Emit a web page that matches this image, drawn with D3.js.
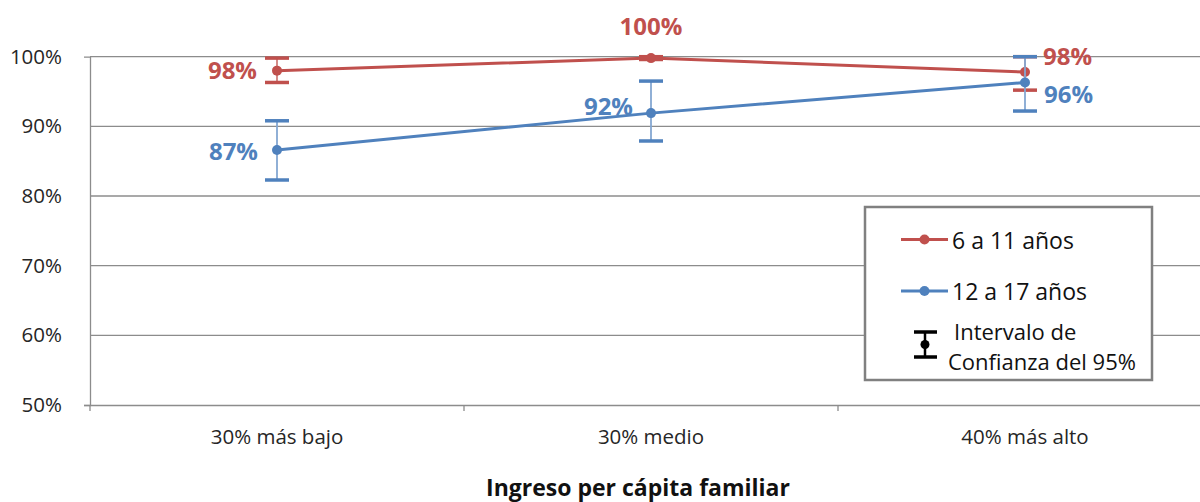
<!DOCTYPE html>
<html lang="es">
  <head>
    <meta charset="UTF-8" />
    <title>Ingreso per cápita familiar</title>
    <script src="https://d3js.org/d3.v7.min.js"></script>
    <style>
      body { margin: 0; background: #fff; }
      svg { display: block; font-family: "Open Sans", sans-serif; }
      .tick text { fill: #262626; }
    </style>
  </head>
  <body>
    <svg width="1200" height="502"></svg>
    <script>
      // categories on the x axis
      const categories = ["30% más bajo", "30% medio", "40% más alto"];
      // series values (%), with 95% confidence limits
      const seriesNames = ["6 a 11 años", "12 a 17 años"];
      const red = [98.0, 99.8, 97.8];
      const redLow = [96.3, 99.6, 95.2];
      const redHigh = [99.8, 100.0, 100.0];
      const blue = [86.6, 91.9, 96.3];
      const blueLow = [82.3, 87.9, 92.2];
      const blueHigh = [90.8, 96.5, 100.0];
      const redLabels = ["98%", "100%", "98%"];
      const blueLabels = ["87%", "92%", "96%"];
      const yTicks = [50, 60, 70, 80, 90, 100];

      const svg = d3.select("svg");
      const mLeft = 90, mRight = 1212, mTop = 56.7, mBottom = 405;
      const font = "'Open Sans', sans-serif";

      const x = d3.scaleBand().domain(categories).range([mLeft, mRight]);
      const y = d3.scaleLinear().domain([50, 100]).range([mBottom, mTop]);
      const grey = "#8c8c8c";

      // gridlines
      svg.append("g")
        .selectAll("line")
        .data(yTicks.slice(1))
        .join("line")
        .attr("x1", mLeft).attr("x2", mRight)
        .attr("y1", d => y(d)).attr("y2", d => y(d))
        .attr("stroke", grey).attr("stroke-width", 1.3);

      // y axis
      const yAxis = svg.append("g")
        .attr("transform", `translate(${mLeft},0)`)
        .call(d3.axisLeft(y).tickValues(yTicks).tickFormat(d => d + "%").tickSize(6).tickPadding(22));
      yAxis.select(".domain").attr("stroke", grey).attr("stroke-width", 1.3);
      yAxis.selectAll(".tick line").attr("stroke", grey).attr("stroke-width", 1.3)
        .attr("x2", (d) => d === 50 ? -6 : 0);
      yAxis.selectAll("text").attr("font-size", 20.5).attr("font-family", font);

      // x axis
      const xAxis = svg.append("g")
        .attr("transform", `translate(0,${mBottom})`)
        .call(d3.axisBottom(x).tickSize(0).tickPadding(24));
      xAxis.select(".domain").attr("stroke", grey).attr("stroke-width", 1.3);
      xAxis.selectAll("text").attr("font-size", 20.5).attr("font-family", font);
      // category separators
      svg.append("g")
        .selectAll("line")
        .data(categories)
        .join("line")
        .attr("x1", d => x(d)).attr("x2", d => x(d))
        .attr("y1", mBottom).attr("y2", mBottom + 6)
        .attr("stroke", grey).attr("stroke-width", 1.3);

      // axis title
      svg.append("text")
        .attr("x", 638).attr("y", 496)
        .attr("text-anchor", "middle")
        .attr("font-size", 23).attr("font-weight", "bold")
        .attr("fill", "#111")
        .text("Ingreso per cápita familiar");

      const cx = d => x(d) + x.bandwidth() / 2;

      function drawSeries(vals, low, high, color, stemColor) {
        const g = svg.append("g");
        // error bars
        categories.forEach((c, i) => {
          g.append("line")
            .attr("x1", cx(c)).attr("x2", cx(c))
            .attr("y1", y(low[i])).attr("y2", y(high[i]))
            .attr("stroke", stemColor).attr("stroke-width", 1.8);
          [low[i], high[i]].forEach(v => {
            g.append("line")
              .attr("x1", cx(c) - 12).attr("x2", cx(c) + 12)
              .attr("y1", y(v)).attr("y2", y(v))
              .attr("stroke", color).attr("stroke-width", 3.5);
          });
        });
        g.append("path")
          .datum(vals)
          .attr("fill", "none")
          .attr("stroke", color).attr("stroke-width", 3)
          .attr("d", d3.line().x((d, i) => cx(categories[i])).y(d => y(d)));
        g.selectAll("circle")
          .data(vals)
          .join("circle")
          .attr("cx", (d, i) => cx(categories[i])).attr("cy", d => y(d))
          .attr("r", 5).attr("fill", color);
      }

      drawSeries(red, redLow, redHigh, "#c0504d", "#d07f7c");
      drawSeries(blue, blueLow, blueHigh, "#4f81bd", "#84a7d2");

      // data labels
      const labelStyle = sel => sel.attr("font-size", 24).attr("font-weight", "bold")
        .attr("dominant-baseline", "central").attr("font-family", font);
      const redPos = [
        { dx: -20, dy: -1, anchor: "end" },
        { dx: 0, dy: -33, anchor: "middle" },
        { dx: 18, dy: -17, anchor: "start" }
      ];
      const bluePos = [
        { dx: -19, dy: 0, anchor: "end" },
        { dx: -18, dy: -8, anchor: "end" },
        { dx: 19, dy: 11, anchor: "start" }
      ];
      svg.append("g").selectAll("text").data(red).join("text")
        .attr("x", (d, i) => cx(categories[i]) + redPos[i].dx)
        .attr("y", (d, i) => y(d) + redPos[i].dy)
        .attr("text-anchor", (d, i) => redPos[i].anchor)
        .attr("fill", "#c0504d")
        .call(labelStyle)
        .text((d, i) => redLabels[i]);
      svg.append("g").selectAll("text").data(blue).join("text")
        .attr("x", (d, i) => cx(categories[i]) + bluePos[i].dx)
        .attr("y", (d, i) => y(d) + bluePos[i].dy)
        .attr("text-anchor", (d, i) => bluePos[i].anchor)
        .attr("fill", "#4f81bd")
        .call(labelStyle)
        .text((d, i) => blueLabels[i]);

      // legend
      const lg = svg.append("g");
      lg.append("rect")
        .attr("x", 865).attr("y", 207).attr("width", 287).attr("height", 173)
        .attr("fill", "#fff").attr("stroke", "#808080").attr("stroke-width", 2.5);
      const legendColors = ["#c0504d", "#4f81bd"];
      seriesNames.forEach((name, i) => {
        const ly = 239.5 + i * 51.5;
        lg.append("line").attr("x1", 901).attr("x2", 948).attr("y1", ly).attr("y2", ly)
          .attr("stroke", legendColors[i]).attr("stroke-width", 3);
        lg.append("circle").attr("cx", 924.5).attr("cy", ly).attr("r", 5).attr("fill", legendColors[i]);
        lg.append("text").attr("x", 952).attr("y", ly).attr("dominant-baseline", "central")
          .attr("font-size", 23).attr("fill", "#111").text(name);
      });
      // confidence interval symbol
      lg.append("line").attr("x1", 925).attr("x2", 925).attr("y1", 332).attr("y2", 357)
        .attr("stroke", "#000").attr("stroke-width", 2.5);
      [332, 357].forEach(v => lg.append("line").attr("x1", 914).attr("x2", 937)
        .attr("y1", v).attr("y2", v).attr("stroke", "#000").attr("stroke-width", 3.5));
      lg.append("circle").attr("cx", 925).attr("cy", 344.5).attr("r", 4.5).attr("fill", "#000");
      lg.append("text").attr("x", 954).attr("y", 331).attr("dominant-baseline", "central")
        .attr("font-size", 22).attr("fill", "#111").text("Intervalo de");
      lg.append("text").attr("x", 948).attr("y", 361).attr("dominant-baseline", "central")
        .attr("font-size", 22).attr("fill", "#111").text("Confianza del 95%");
    </script>
  </body>
</html>
